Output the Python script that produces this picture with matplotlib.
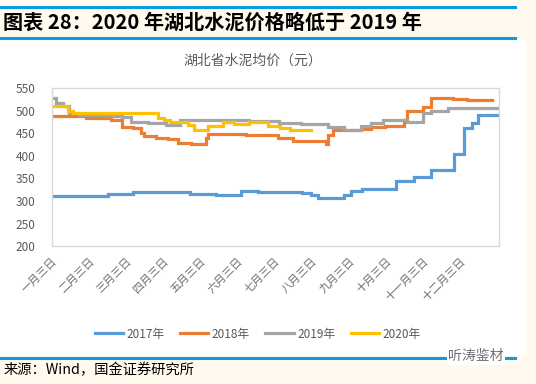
import numpy as np
import matplotlib
matplotlib.use('Agg')
import matplotlib.pyplot as plt
from matplotlib.patches import Rectangle
from matplotlib.lines import Line2D

plt.rcParams['font.family'] = ['Noto Sans CJK SC', 'DejaVu Sans']

# step-wise daily prices: (day of year, price) change points, last item = end of series
days_2017 = [0, 45, 65, 112, 133, 154, 168, 204, 211, 217, 238, 244, 253, 281, 295, 309, 328, 336, 343, 348, 364]
vals_2017 = [311, 315, 319, 315, 314, 321, 319, 318, 313, 307, 313, 322, 327, 344, 352, 368, 403, 461, 473, 490, 490]

days_2018 = [0, 19, 27, 47, 56, 65, 72, 74, 84, 94, 102, 113, 125, 127, 158, 184, 196, 223, 225, 229, 252, 260, 272, 287, 290, 300, 303, 309, 327, 339, 359]
vals_2018 = [489, 487, 483, 479, 463, 461, 450, 444, 439, 436, 429, 427, 440, 447, 445, 439, 433, 427, 446, 456, 459, 464, 466, 479, 498, 500, 508, 527, 526, 524, 524]

days_2019 = [0, 2, 8, 13, 21, 47, 56, 64, 78, 92, 104, 160, 185, 203, 225, 238, 252, 260, 270, 290, 303, 309, 323, 341, 365]
vals_2019 = [527, 517, 511, 494, 490, 488, 485, 475, 472, 468, 479, 477, 472, 470, 464, 456, 466, 472, 478, 474, 495, 500, 506, 506, 505]

days_2020 = [0, 12, 16, 86, 91, 96, 110, 115, 127, 139, 148, 160, 176, 186, 194, 211]
vals_2020 = [509, 499, 494, 483, 479, 474, 469, 457, 465, 474, 471, 474, 465, 461, 457, 457]

series = [('2017年', days_2017, vals_2017, '#5B9BD5'),
          ('2018年', days_2018, vals_2018, '#ED7D31'),
          ('2019年', days_2019, vals_2019, '#A5A5A5'),
          ('2020年', days_2020, vals_2020, '#FFC000')]

month_labels = ['一月三日', '二月三日', '三月三日', '四月三日', '五月三日', '六月三日',
                '七月三日', '八月三日', '九月三日', '十月三日', '十一月三日', '十二月三日']

cream = '#FFF9EE'
blue = '#0A9DDD'

fig = plt.figure(figsize=(5.36, 3.84), dpi=100, facecolor=cream)

# white chart panel
fig.patches.append(Rectangle((0, 0.072), 0.981, 0.826, transform=fig.transFigure,
                             facecolor='white', edgecolor='none', zorder=-5))
for y in [0.982, 0.900, 0.069]:
    fig.add_artist(Line2D([0, 0.961], [y, y], color=blue, lw=2.2, transform=fig.transFigure))

fig.text(0.006, 0.943, '图表 28：2020 年湖北水泥价格略低于 2019 年', fontsize=14.5,
         fontweight='bold', color='black', va='center', ha='left')
fig.text(0.472, 0.843, '湖北省水泥均价（元）', fontsize=10, color='#595959', ha='center', va='center')
fig.text(0.006, 0.036, '来源：Wind，国金证券研究所', fontsize=10.3, color='black', va='center', ha='left')
fig.text(0.94, 0.072, '听涛鉴材', fontsize=10, color='#707070', va='center', ha='right',
         bbox=dict(facecolor='white', edgecolor='none', pad=1))

ax = fig.add_axes([0.097, 0.359, 0.834, 0.412])
ax.set_facecolor('white')
for name, d, v, c in series:
    ax.step(d, v, where='post', color=c, lw=2.3, label=name, solid_joinstyle='miter')

ax.set_xlim(0, 365)
ax.set_ylim(200, 550)
ax.set_yticks(np.arange(200, 551, 50))
ax.set_xticks([-1 + 30.4 * i for i in range(12)])
ax.set_xticklabels(month_labels, rotation=45, ha='right', va='top', rotation_mode='anchor',
                   fontsize=8, color='#6E6E6E')
ax.tick_params(axis='y', labelsize=8.5, labelcolor='#595959', length=0, pad=12)
ax.tick_params(axis='x', length=0, pad=7)
for s in ax.spines.values():
    s.set_color('#D9D9D9')
    s.set_linewidth(1)

fig.legend(loc='center', bbox_to_anchor=(0.481, 0.130), ncol=4, frameon=False,
           fontsize=8.5, labelcolor='#595959', handlelength=2.4, handletextpad=0.3,
           columnspacing=1.3)

fig.savefig('out.png', dpi=100, facecolor=cream)
